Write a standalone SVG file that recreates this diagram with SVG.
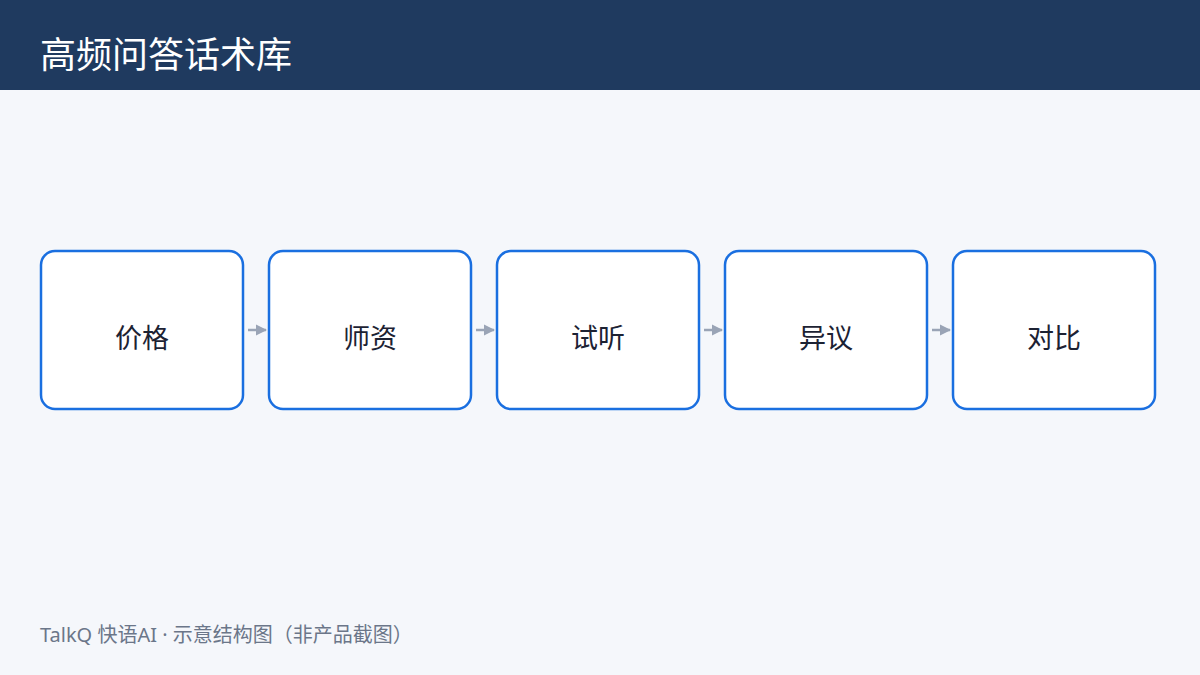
<svg xmlns="http://www.w3.org/2000/svg" width="1200" height="675" viewBox="0 0 1200 675">
<defs>
<style>
.box{fill:#ffffff;stroke:#1a6fe0;stroke-width:2.5}
.lbl{font-family:"Noto Sans CJK SC","Noto Sans",sans-serif;font-size:27px;fill:#1c2233;text-anchor:middle;dominant-baseline:central}
.conn{stroke:#9aa4b6;stroke-width:2.5;fill:none}
</style>
<marker id="ah" viewBox="0 0 10 10" refX="9" refY="5" markerWidth="4.5" markerHeight="4.5" orient="auto" markerUnits="strokeWidth">
<path d="M0,0 L10,5 L0,10 z" fill="#9aa4b6"/>
</marker>
</defs>
<rect x="0" y="0" width="1200" height="675" fill="#f5f7fb"/>
<rect x="0" y="0" width="1200" height="90" fill="#1f3a5f"/>
<text x="40" y="68" font-family="Noto Sans CJK SC, Noto Sans, sans-serif" font-size="36" fill="#ffffff">高频问答话术库</text>
<g id="connectors">
<line class="conn" x1="248" y1="330" x2="266" y2="330" marker-end="url(#ah)"/>
<line class="conn" x1="476" y1="330" x2="494" y2="330" marker-end="url(#ah)"/>
<line class="conn" x1="704" y1="330" x2="722" y2="330" marker-end="url(#ah)"/>
<line class="conn" x1="932" y1="330" x2="950" y2="330" marker-end="url(#ah)"/>
</g>
<g id="node1"><rect class="box" x="41" y="251" width="202" height="158" rx="14"/><text class="lbl" x="142" y="336">价格</text></g>
<g id="node2"><rect class="box" x="269" y="251" width="202" height="158" rx="14"/><text class="lbl" x="370" y="336">师资</text></g>
<g id="node3"><rect class="box" x="497" y="251" width="202" height="158" rx="14"/><text class="lbl" x="598" y="336">试听</text></g>
<g id="node4"><rect class="box" x="725" y="251" width="202" height="158" rx="14"/><text class="lbl" x="826" y="336">异议</text></g>
<g id="node5"><rect class="box" x="953" y="251" width="202" height="158" rx="14"/><text class="lbl" x="1054" y="336">对比</text></g>
<text x="40" y="642" font-family="Noto Sans, Noto Sans CJK SC, sans-serif" font-size="20" fill="#6b7689">TalkQ 快语AI · 示意结构图（非产品截图）</text>
</svg>
